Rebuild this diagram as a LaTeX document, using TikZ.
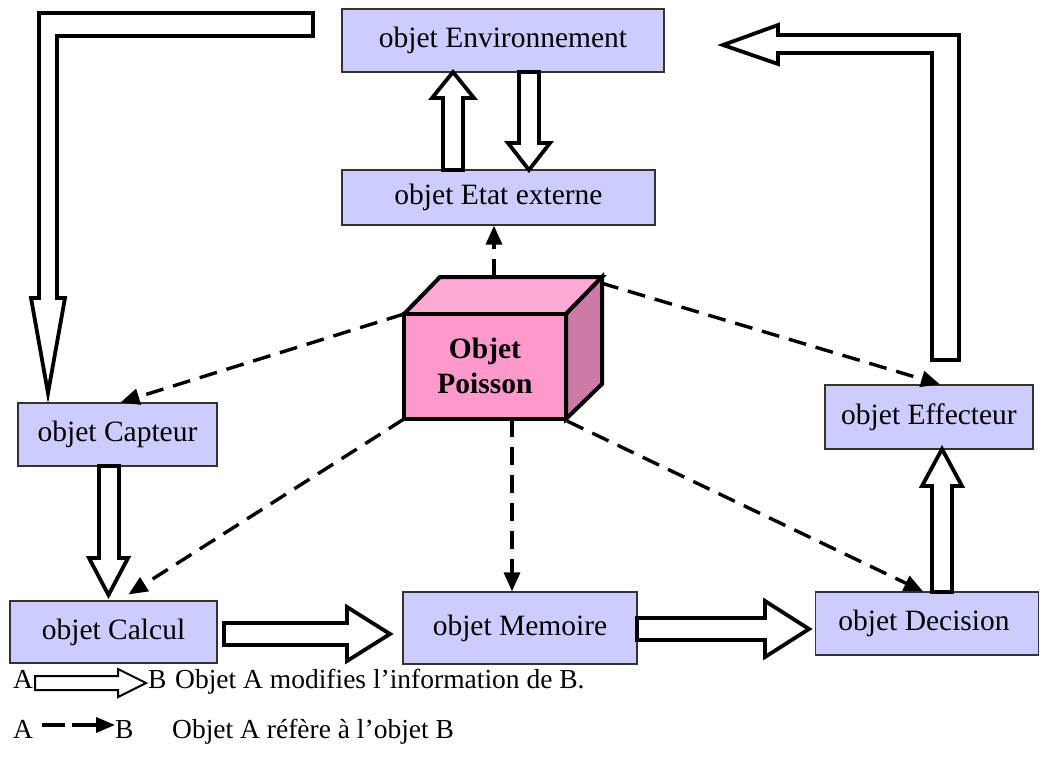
\documentclass[tikz,border=0pt]{standalone}
\usepackage{fontspec}
\setmainfont{Liberation Serif}
\usetikzlibrary{arrows.meta,calc}
\definecolor{boxfill}{HTML}{CCCCFF}
\definecolor{cubefront}{HTML}{FF99CC}
\definecolor{cubetop}{HTML}{FFAAD4}
\definecolor{cubeside}{HTML}{CC7AA6}
\begin{document}
\begin{tikzpicture}[x=1pt,y=-1pt,
  objbox/.style={draw=black!80, line width=1.2pt, fill=boxfill, inner sep=0pt,
                 font=\fontsize{29.5}{34}\selectfont},
  hollow/.style={draw=black, line width=3.8pt, fill=white, line join=miter},
  ref/.style={draw=black, line width=3.4pt, dash pattern=on 18pt off 10pt,
              -{Triangle[length=19pt,width=16pt]}},
  legtext/.style={anchor=base west, inner sep=0pt, font=\fontsize{27.5}{32}\selectfont},
]
\useasboundingbox (0,0) rectangle (1041,773);

% ---- object boxes ----
\node[objbox, minimum width=322pt, minimum height=63pt] (env)   at (503,40.5)  {objet Environnement};
\node[objbox, minimum width=313pt, minimum height=55pt] (etat)  at (498.5,197.5) {objet Etat externe};
\node[objbox, minimum width=199pt, minimum height=63pt] (capt)  at (117.5,434.5) {objet Capteur};
\node[objbox, minimum width=207pt, minimum height=62pt] (calc)  at (113.5,632)  {objet Calcul};
\node[objbox, minimum width=234pt, minimum height=72pt] (mem)   at (520,628)    {objet Memoire};
\node[objbox, minimum width=223pt, minimum height=63pt] (dec)   at (927,623.5) {objet Decision\hspace*{6pt}};
\node[objbox, minimum width=208pt, minimum height=64pt] (eff)   at (929,417)    {objet Effecteur};

% ---- the Poisson cube ----
\begin{scope}[line width=4pt, line join=miter]
  \filldraw[fill=cubetop]  (404,314) -- (440,277) -- (602,277) -- (566,314) -- cycle;
  \filldraw[fill=cubeside] (566,314) -- (602,277) -- (602,384) -- (566,419) -- cycle;
  \filldraw[fill=cubefront] (404,314) rectangle (566,419);
\end{scope}
\node[align=center, font=\fontsize{29.5}{35}\selectfont\bfseries] (poisson) at (485,366) {Objet\\Poisson};

\coordinate (cTop) at (494,277);
\coordinate (cTL)  at (404,314);
\coordinate (cBL)  at (404,419);
\coordinate (cBot) at (512,419);
\coordinate (cTR)  at (601,283);
\coordinate (cBR)  at (567,421);

% ---- references (dashed) ----
\draw[ref] (cTop) -- (cTop |- etat.south);
\draw[ref] (cTL) -- ($(capt.north)+(3,0)$);
\draw[ref] (cBL) -- ($(calc.north)+(15,-6)$);
\draw[ref] (cBot) -- (cBot |- mem.north);
\draw[ref] (cTR) -- ($(eff.north)+(11,0)$);
\draw[ref] (cBR) -- ($(dec.north)+(-4,0)$);

% ---- information flows (hollow block arrows) ----
\draw[hollow] (443,170) -- (443,98) -- (432,98) -- (453,72) -- (474,98) -- (463,98) -- (463,170) -- cycle;
\draw[hollow] (519,72) -- (539,72) -- (539,143) -- (550,143) -- (529,170) -- (508,143) -- (519,143) -- cycle;
\draw[hollow] (99,466) -- (119,466) -- (119,558) -- (128,558) -- (108.5,595) -- (89,558) -- (99,558) -- cycle;
\draw[hollow] (932,592) -- (932,486) -- (922,486) -- (942,449) -- (962,486) -- (952,486) -- (952,592) -- cycle;
\draw[hollow] (224,623) -- (347,623) -- (347,607) -- (390,634) -- (347,661) -- (347,645) -- (224,645) -- cycle;
\draw[hollow] (637,618) -- (765,618) -- (765,601) -- (809,629) -- (765,657) -- (765,640) -- (637,640) -- cycle;
% environment to sensor
\draw[hollow] (39,13) -- (313,13) -- (313,36) -- (57,36) -- (57,298) -- (65,298) -- (48,393)
              -- (31,298) -- (39,298) -- cycle;
% effector to environment
\draw[hollow] (723,45) -- (778,25) -- (778,35) -- (959,35) -- (959,360) -- (932,360) -- (932,53)
              -- (778,53) -- (778,64) -- cycle;

% ---- legend ----
\node[legtext] (la1) at (13,688) {A};
\node[legtext] (lb1) at (148,688) {B};
\node[legtext] (lt1) at (175,688) {Objet A modifies l’information de B.};
\draw[draw=black, line width=2pt, fill=white, line join=miter]
  (35,676) -- (118,676) -- (118,669) -- (146,683) -- (118,697) -- (118,690) -- (35,690) -- cycle;

\node[legtext] (la2) at (13,738) {A};
\node[legtext] (lb2) at (115,738) {B};
\node[legtext] (lt2) at (172,738) {Objet A réfère à l’objet B};
\coordinate (d1a) at (42,725);
\coordinate (d1b) at (65,725);
\coordinate (d2a) at (72,725);
\coordinate (d2b) at (115,725);
\draw[line width=3.4pt] (d1a) -- (d1b);
\draw[line width=3.4pt, -{Triangle[length=19pt,width=15pt]}] (d2a) -- (d2b);
\end{tikzpicture}
\end{document}
